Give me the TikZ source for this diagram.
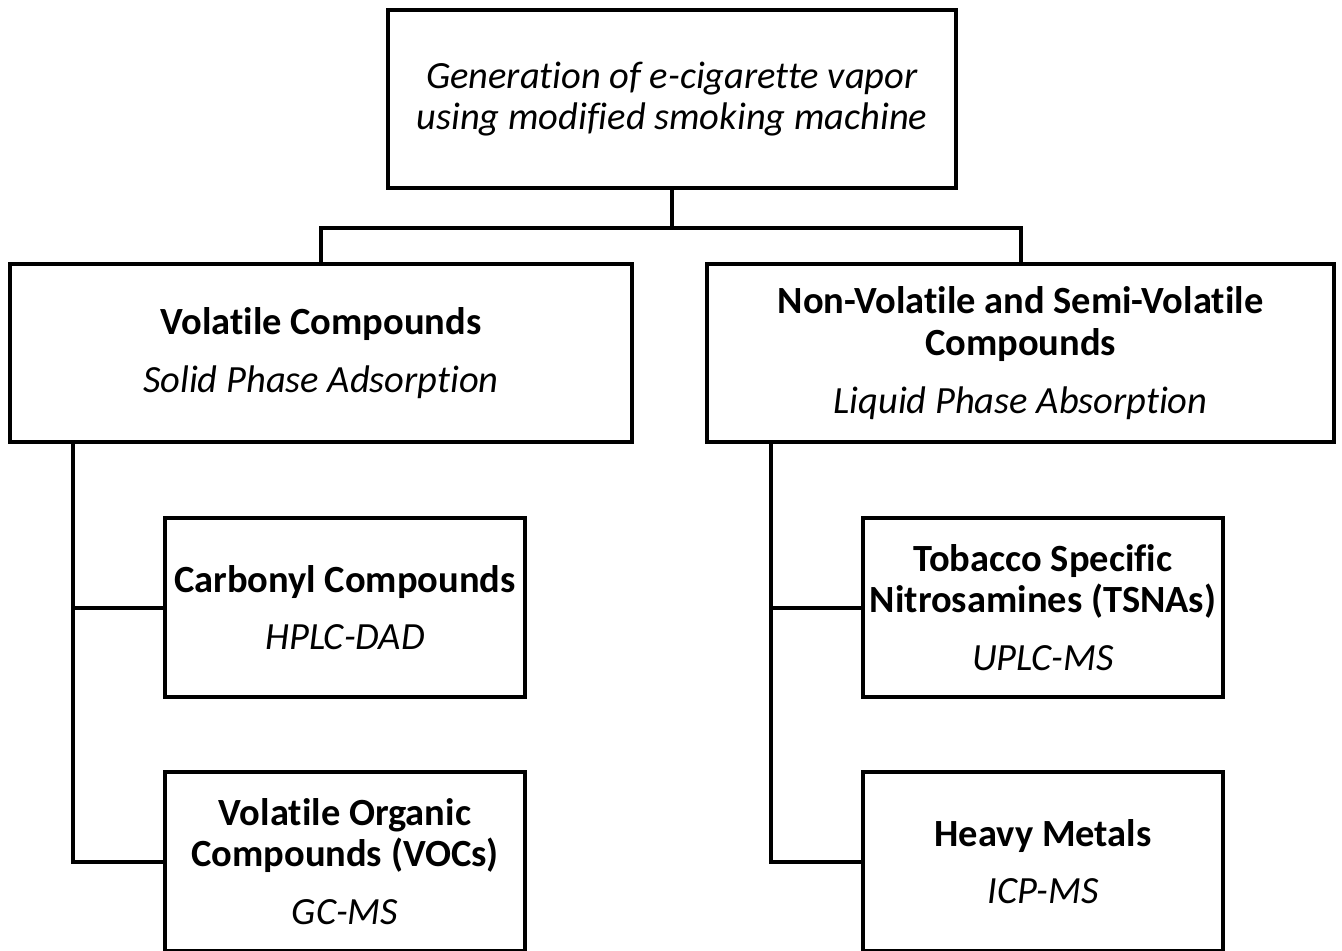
\documentclass[tikz,border=0pt]{standalone}
\usepackage{fontspec}
\setmainfont{Carlito}[Ligatures=NoCommon]
\begin{document}
\begin{tikzpicture}[x=0.02cm,y=-0.02cm,line width=0.08cm,
  box/.style={draw,rectangle,inner sep=0pt,align=center,
    font=\fontsize{21.9}{23.8}\selectfont}]

\path[use as bounding box,clip] (0,0) rectangle (1342,950);

\node[box,minimum width=568*0.02cm,minimum height=178*0.02cm] (gen) at (672,99) {\textit{Generation of e-cigarette vapor}\\\textit{using modified smoking machine}};

\node[box,minimum width=622*0.02cm,minimum height=178*0.02cm] (vol) at (321,353) {\textbf{Volatile Compounds}\\[9pt]\textit{Solid Phase Adsorption}};
\node[box,minimum width=627*0.02cm,minimum height=178*0.02cm] (nonvol) at (1020.5,353) {\textbf{Non-Volatile and Semi-Volatile}\\\textbf{Compounds}\\[9pt]\textit{Liquid Phase Absorption}};

\node[box,minimum width=360*0.02cm,minimum height=179*0.02cm] (carb) at (345,607.5) {\textbf{Carbonyl Compounds}\\[9pt]\textit{HPLC-DAD}};
\node[box,minimum width=360*0.02cm,minimum height=179*0.02cm] (voc) at (345,861.5) {\textbf{Volatile Organic}\\\textbf{Compounds (VOCs)}\\[9pt]\textit{GC-MS}};

\node[box,minimum width=360*0.02cm,minimum height=179*0.02cm] (tsna) at (1043,607.5) {\textbf{Tobacco Specific}\\\textbf{Nitrosamines (TSNAs)}\\[9pt]\textit{UPLC-MS}};
\node[box,minimum width=360*0.02cm,minimum height=179*0.02cm] (metal) at (1043,861.5) {\textbf{Heavy Metals}\\[9pt]\textit{ICP-MS}};

\coordinate (split) at (672,228);
\coordinate (ltrunk) at (73,442);
\coordinate (rtrunk) at (771,442);

\draw (gen.south) -- (split);
\draw (split) -| (vol.north);
\draw (split) -| (nonvol.north);

\draw (ltrunk) |- (carb.west);
\draw (ltrunk) |- (voc.west);
\draw (rtrunk) |- (tsna.west);
\draw (rtrunk) |- (metal.west);

\end{tikzpicture}
\end{document}
